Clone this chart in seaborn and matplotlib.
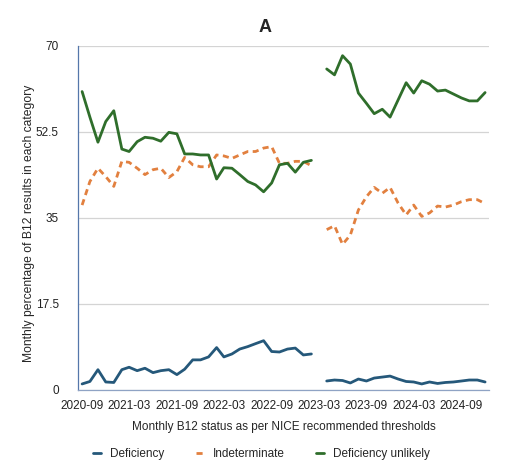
import pandas as pd
import numpy as np
import matplotlib
matplotlib.use("Agg")
import matplotlib.pyplot as plt
import seaborn as sns

# ------------------------------------------------------------
# Data (% of monthly B12 results)
# 2023-03 has no data -> gap in the lines
# ------------------------------------------------------------
months = pd.date_range("2020-09-01", "2024-12-01", freq="MS")

deficiency = [1.2, 1.7, 4.1, 1.6, 1.5, 4.1, 4.6, 3.9, 4.4, 3.5,
              3.9, 4.1, 3.1, 4.2, 6.1, 6.1, 6.7, 8.6, 6.7, 7.3,
              8.3, 8.8, 9.4, 10.0, 7.8, 7.7, 8.3, 8.5, 7.1, 7.3,
              np.nan,
              1.8, 2.0, 1.9, 1.4, 2.2, 1.8, 2.4, 2.6, 2.8, 2.2,
              1.7, 1.6, 1.2, 1.6, 1.3, 1.5, 1.6, 1.8, 2.0, 2.0, 1.6]

indeterminate = [37.6, 42.4, 45.1, 43.4, 41.4, 46.5, 46.3, 45.1, 43.8, 44.8,
                 45.1, 43.2, 44.4, 47.3, 45.8, 45.4, 45.4, 47.8, 47.6, 47.1,
                 47.8, 48.5, 48.5, 49.2, 49.5, 46.1, 46.1, 46.5, 46.5, 45.6,
                 np.nan,
                 32.6, 33.4, 29.6, 31.5, 36.6, 39.3, 41.2, 40.0, 41.2, 38.0,
                 35.6, 37.6, 35.3, 36.0, 37.4, 37.2, 37.6, 38.3, 38.7, 38.7, 37.9]

unlikely = [60.7, 55.5, 50.4, 54.6, 56.8, 49.0, 48.5, 50.5, 51.4, 51.2,
            50.6, 52.4, 52.1, 48.0, 48.0, 47.8, 47.8, 42.9, 45.2, 45.1,
            43.8, 42.4, 41.7, 40.3, 42.1, 45.8, 46.1, 44.3, 46.3, 46.7,
            np.nan,
            65.3, 64.1, 68.0, 66.3, 60.4, 58.3, 56.2, 57.1, 55.5, 59.0,
            62.5, 60.4, 62.9, 62.2, 60.8, 61.0, 60.2, 59.4, 58.8, 58.8, 60.5]

categories = ["Deficiency", "Indeterminate", "Deficiency unlikely"]
colours = ["#25587a", "#e2803f", "#2f6e2b"]
y_ticks = [0, 17.5, 35, 52.5, 70]
y_tick_labels = ["0", "17.5", "35", "52.5", "70"]

# ------------------------------------------------------------
# Long format; "segment" splits the series at the missing month
# ------------------------------------------------------------
wide = pd.DataFrame({"Month": months,
                     "Deficiency": deficiency,
                     "Indeterminate": indeterminate,
                     "Deficiency unlikely": unlikely})
wide["segment"] = (wide["Month"] >= "2023-03-01").astype(int)
df = wide.melt(id_vars=["Month", "segment"], var_name="Status", value_name="Percent")
df = df.dropna()

# ------------------------------------------------------------
# Plot
# ------------------------------------------------------------
sns.set_style("white")
plt.rcParams["font.family"] = ["Liberation Sans", "DejaVu Sans"]

fig, ax = plt.subplots(figsize=(5.18, 4.68), dpi=100)
fig.subplots_adjust(left=0.151, right=0.944, bottom=0.167, top=0.902)

sns.lineplot(data=df, x="Month", y="Percent", hue="Status", style="Status",
             units="segment", estimator=None,
             hue_order=categories, style_order=categories,
             palette=colours,
             dashes={"Deficiency": "", "Indeterminate": (2.2, 1.6), "Deficiency unlikely": ""},
             linewidth=2, ax=ax, legend=False)

ax.set_ylim(0, 70)
ax.set_yticks(y_ticks)
ax.set_yticklabels(y_tick_labels)
ax.set_xlim(months[0] - pd.Timedelta(days=15), months[-1] + pd.Timedelta(days=15))
xt = months[::6]
ax.set_xticks(xt)
ax.set_xticklabels([d.strftime("%Y-%m") for d in xt])
ax.tick_params(axis="both", length=0, labelsize=8.5, colors="#222222")
ax.tick_params(axis="y", pad=14)
ax.tick_params(axis="x", pad=7)

ax.grid(axis="y", color="#d4d4d4", linewidth=0.9)
ax.set_axisbelow(True)
for side in ["top", "right"]:
    ax.spines[side].set_visible(False)
ax.spines["left"].set_color("#5577aa")
ax.spines["left"].set_linewidth(0.9)
ax.spines["bottom"].set_color("#8fa3c4")
ax.spines["bottom"].set_linewidth(0.9)

ax.set_xlabel("Monthly B12 status as per NICE recommended thresholds", fontsize=8.5, labelpad=7)
ax.set_ylabel("Monthly percentage of B12 results in each category", fontsize=8.7)
ax.yaxis.set_label_coords(-0.105, 0.485)
fig.text(265 / 518, 1 - 27 / 468, "A", fontsize=13, fontweight="bold", ha="center", va="center")

# legend with short line handles
handles = [plt.Line2D([], [], color=colours[0], lw=2),
           plt.Line2D([], [], color=colours[1], lw=2, dashes=(2.2, 1.6)),
           plt.Line2D([], [], color=colours[2], lw=2)]
fig.legend(handles, categories, loc="lower center", bbox_to_anchor=(0.505, -0.006),
           ncol=3, frameon=False, fontsize=8.5, handlelength=0.65,
           columnspacing=2.7, handletextpad=0.75)

plt.savefig("out.png", dpi=100)
